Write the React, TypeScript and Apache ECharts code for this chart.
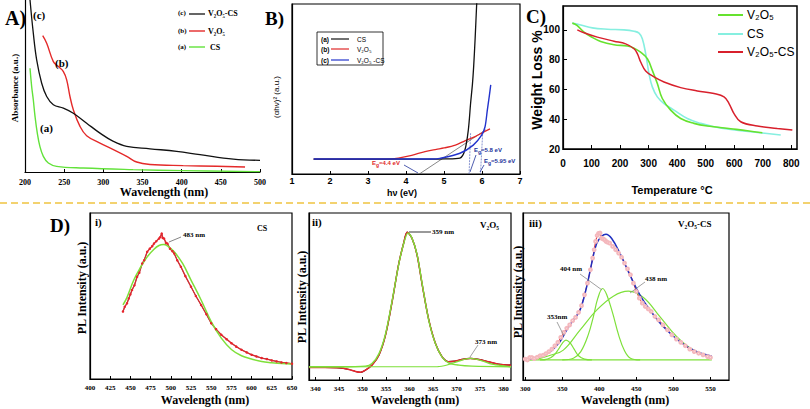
import { useEffect, useRef } from 'react';
import * as echarts from 'echarts';

// ---------- Panel A: UV-vis absorbance ----------
const A_CS = [[206.4,60.3],[208.5,49.7],[210.6,42],[212.8,32.3],[215.7,22.6],[219,14.9],[223.4,9.1],[229.8,5.2],[240.4,3.3],[274.5,2.3],[338,1.4],[402,0.8],[500,0.2]];
const A_V2O5 = [[222.6,79.3],[227.7,74.9],[236.2,64.2],[242.6,61.3],[249,58.4],[253.2,53.6],[257.4,43.9],[261.7,36.2],[270.2,26.5],[278.7,21.1],[295.7,16.8],[312.8,13],[329.8,9.1],[342.6,5.8],[359.6,4.4],[402,3.7],[444.7,3.3],[480.9,2.9]];
const A_V2O5CS = [[205.6,106],[206.4,100],[210.6,80.7],[214.9,65.2],[221.3,51.6],[227.7,43.9],[236.2,39.1],[249,37.1],[261.7,34.2],[278.7,28.4],[295.7,22.6],[312.8,17.8],[329.8,14.9],[359.6,13.5],[393.6,12],[423.4,10.1],[466,7.5],[500,6.8]];

// ---------- Panel B: Tauc plot ----------
const B_CS = [[1.57,8.8],[3,8.8],[4.5,8.8],[5.03,8.9],[5.42,9.4],[5.55,14.1],[5.64,25.9],[5.7,41.6],[5.75,53.3],[5.78,63],[5.82,80],[5.86,100],[5.87,104]];
const B_V2O5 = [[1.57,8.8],[3.5,8.8],[3.8,9.4],[4.15,11],[4.5,13.2],[4.8,14.5],[5.0,15.3],[5.3,17],[5.55,19.5],[5.82,22],[6.03,24.5],[6.21,26.5]];
const B_V2O5CS = [[1.57,8.8],[4.68,8.8],[4.89,9.2],[5.42,12.2],[5.77,17],[5.99,22.9],[6.08,27.8],[6.14,37.6],[6.19,45.5],[6.23,52.4]];
const B_TANGENT = [[4.35,0],[6.1,26]];
const B_EG1 = [[5.7,24],[5.66,0]];
const B_EG2 = [[6.02,25],[5.96,0]];

// ---------- Panel C: TGA ----------
const C_V2O5 = [[32.7,104.5],[50,102.9],[73.6,98.4],[97,95.5],[132,92.2],[178.7,90],[225.5,89.1],[248.8,87.7],[272,85],[295.6,80.6],[313,72.8],[330.6,63.9],[348,53.9],[377.3,46.1],[412.4,40.5],[459,37.2],[505.8,35.4],[587.6,33.6],[646,32.3],[698.6,30.9]];
const C_CS = [[32.7,104.5],[62,103.3],[102.8,101.3],[155.4,100.4],[213.8,100],[248.8,99.1],[266.4,97.8],[278,94],[289.7,84],[301.4,70.6],[313,61.7],[330.6,55],[354,50.5],[389,46.1],[435.7,40.5],[482.5,37.2],[529.2,34.9],[587.6,33.1],[681,31.1],[763,29.4]];
const C_V2O5CS = [[50.2,100],[73.6,98],[120.3,95.1],[178.7,92.4],[219.6,90.6],[248.8,87.3],[260.5,84],[272.2,78.4],[289.7,72.4],[319,68.4],[354,65],[412.4,61.2],[470.8,59],[529.2,57.2],[564.3,55],[581.8,50.5],[599.3,43.8],[622.7,38.3],[681,35.4],[751,33.8],[803.7,32.7]];
const C_XTICKS = [0,100,200,300,400,500,600,700,800];
const C_YTICKS = [20,40,60,80,100];

// ---------- Panel D-i: PL of CS ----------
const D1_DATA = [[440.8,40.6],[443,43.5],[445.8,45.6],[448,48.5],[450,51],[452,53.6],[455,56.5],[458.3,61.6],[461,64],[464.6,69.6],[467,71.5],[470.8,76.6],[474,78.5],[477,80],[479.2,81.6],[482,83],[485.4,84.6],[487,85.5],[488.75,87.6],[490,85],[491.7,84.6],[494,82],[495.8,81.6],[499,78.5],[502,77],[504.2,75.6],[508,71.5],[512.5,67.6],[518,62],[525,55.6],[531,50],[537.5,44.6],[544,39],[550,33.6],[556,30],[562.5,26.6],[569,24],[575,21.6],[581,19.5],[587.5,17.6],[594,16],[600,14.6],[606,13.6],[612.5,12.6],[619,12],[625,11.2],[631,10.6],[637,10],[643,9.6],[650,9.2]];
const D1_FIT = [[440.8,44.6],[445.8,49.2],[454.2,59.6],[462.5,67.2],[470.8,73.6],[479.2,78.2],[485.4,80.4],[490.8,81],[495.8,80.2],[504.2,76.6],[514.6,69.6],[525,59.6],[537.5,47.6],[550,34.6],[562.5,24.6],[575,17.8],[587.5,14],[600,12],[612.5,10.5],[625,9.8],[637.5,9.3],[650,9.1]];

// ---------- Panel D-ii: PL of V2O5 ----------
const D2_DATA = [[338.6,7.5],[342,7.5],[345,7.3],[347.1,6.3],[348.5,5.1],[349.6,4.6],[350.6,5.9],[352,8.9],[353.5,15],[354.9,27],[356.3,47],[357.7,69.5],[358.8,82.5],[359.5,88.5],[360.5,85],[361.6,75],[362.7,57],[364.1,36],[365.5,22],[366.9,14],[368.3,11],[369.7,11.3],[371.2,12.3],[372.9,12.9],[374.7,12.3],[376.8,10.9],[378.9,9.5],[381.6,8.9]];
const D2_FIT1 = [[338.6,7.9],[345,7.9],[350.6,8.3],[352,9.9],[353.5,15.8],[354.9,27.7],[356.3,47.5],[357.7,69.3],[358.8,82.2],[359.7,88.1],[360.5,85.1],[361.6,75.2],[362.7,57.4],[364.1,35.6],[365.5,21.8],[366.9,13.9],[368.3,10.3],[370.5,8.9],[373.3,8.3],[381.6,7.9]];
const D2_FIT2 = [[338.6,7.9],[366,8],[368,9],[370.5,11.3],[372.9,12.9],[375.4,11.5],[377.5,9.5],[380.4,8.3],[381.6,7.9]];
const D2_TICKS = [340,345,350,355,360,365,370,375,380];

// ---------- Panel D-iii: PL of V2O5-CS ----------
const D3_DATA = [[300,12.5],[303,12],[306,13.5],[309,13.5],[312,12.8],[316,13.6],[320,14.5],[324,14.8],[328,15.8],[332,17],[336,18.5],[340,20.5],[344,22.6],[348,25.5],[352,28.5],[356,31],[360,33],[364,35.5],[368,37.5],[372,40.5],[376,44.5],[380,51],[384,58],[388,66],[391,73],[393,78],[395,83],[397,86.5],[399,87.8],[401,88],[403,85],[405,84.5],[407,84],[409,83],[411,82.5],[414,82],[418,80],[422,78],[426,76],[430,73.5],[434,70],[438,66.5],[442,63],[446,58],[450,53],[454,49],[458,46],[462,44],[466,42.5],[470,41],[475,38],[480,36],[486,33],[492,30],[498,27],[504,24.5],[510,22.5],[516,20.5],[522,18.5],[528,17],[534,16],[540,15],[546,14],[550,13.5]];
const D3_FIT = [[300,12.6],[306.3,12.5],[319.8,13.9],[333.3,16.9],[346.8,22.9],[355.9,29.9],[364.9,35.9],[373.9,41.8],[382.9,55.8],[389.6,69.7],[396.4,81.7],[403.2,86.1],[409,87.3],[416.7,84.7],[428,75.7],[441.4,62.7],[454.9,50.8],[468.5,41.8],[486.5,31.9],[509,22.9],[531.5,16.9],[551.8,14.3]];
const D3_P353 = [[320,12],[330,12.5],[338,14.5],[345,18.5],[350,22],[355,23.9],[360,22.5],[366,18.5],[372,14.5],[380,12.5],[390,12]];
const D3_P404 = [[350,12],[365,13],[375,17],[385,27],[392,38],[398,49],[404.5,54.8],[410,51],[418,40],[426,27],[434,17.5],[442,13],[455,12]];
const D3_P438 = [[305,12],[320,13],[335,15],[351.4,17.9],[373.9,29.9],[396.4,41.8],[418.9,50.2],[439.2,53.2],[459.5,49.4],[482,37.8],[504.5,25.9],[527,17.9],[551.8,13.9]];
const D3_BASE = [[300,12],[551.8,12]];
const D3_TICKS = [300,350,400,450,500,550];

const SERIF = 'Liberation Serif';
const SANS = 'Liberation Sans';

function txt(x: number, y: number, text: string, size: number, opts: any = {}) {
  return {
    type: 'text', x, y, rotation: opts.rotation || 0, z: 100,
    style: {
      text, fontSize: size, fontFamily: opts.family || SERIF,
      fontWeight: opts.weight || 'bold', fill: opts.color || '#000',
      align: opts.align || 'left', verticalAlign: 'middle', rich: opts.rich,
    },
  };
}
function seg(x1: number, y1: number, x2: number, y2: number, color: string, w = 1, dash?: number[]) {
  return { type: 'line', z: 100, shape: { x1, y1, x2, y2 }, style: { stroke: color, lineWidth: w, lineDash: dash } };
}

export default function App() {
  const ref = useRef<HTMLDivElement>(null);
  useEffect(() => {
    document.body.style.margin = '0';
    const chart = echarts.init(ref.current!, null, { renderer: 'svg' });
    const black = '#000';
    const axLine = { show: true, lineStyle: { color: black, width: 1.2 } };
    const noSplit = { show: false };
    const lab = (family: string, size: number, margin: number, extra: any = {}) => ({
      fontFamily: family, fontWeight: 'bold', fontSize: size, color: black, margin, ...extra,
    });
    const tick = (extra: any = {}) => ({ show: true, inside: true, length: 3, lineStyle: { color: black }, ...extra });
    const grids = [
      { left: 25, top: 0, width: 235, height: 172 },
      { left: 292, top: 4, width: 228, height: 170, show: true, borderColor: black, borderWidth: 1.2, backgroundColor: 'transparent' },
      { left: 563, top: 6, width: 234, height: 143, show: true, borderColor: black, borderWidth: 1.5, backgroundColor: 'transparent' },
      { left: 90, top: 213, width: 202, height: 166, show: true, borderColor: black, borderWidth: 1.2, backgroundColor: 'transparent' },
      { left: 309, top: 213, width: 202, height: 167, show: true, borderColor: black, borderWidth: 1.2, backgroundColor: 'transparent' },
      { left: 523, top: 213, width: 206, height: 167, show: true, borderColor: black, borderWidth: 1.2, backgroundColor: 'transparent' },
    ];
    const xAxis = [
      { gridIndex: 0, type: 'value', min: 200, max: 500, interval: 50, axisLine: axLine, axisTick: tick(), splitLine: noSplit, axisLabel: lab(SERIF, 8, 6) },
      { gridIndex: 1, type: 'value', min: 1, max: 7, interval: 1, axisLine: axLine, axisTick: tick(), splitLine: noSplit, axisLabel: lab(SANS, 9, 2) },
      { gridIndex: 2, type: 'value', min: 0, max: 820, axisLine: axLine, axisTick: tick({ customValues: C_XTICKS, length: 4 }), splitLine: noSplit, axisLabel: lab(SANS, 10, 9, { customValues: C_XTICKS }) },
      { gridIndex: 3, type: 'value', min: 400, max: 650, interval: 25, axisLine: axLine, axisTick: tick(), splitLine: noSplit, axisLabel: lab(SERIF, 7, 5, { interval: 0 }) },
      { gridIndex: 4, type: 'value', min: 338.6, max: 381.6, axisLine: axLine, axisTick: tick({ customValues: D2_TICKS }), splitLine: noSplit, axisLabel: lab(SERIF, 7, 5, { customValues: D2_TICKS }) },
      { gridIndex: 5, type: 'value', min: 297, max: 575, axisLine: axLine, axisTick: tick({ customValues: D3_TICKS }), splitLine: noSplit, axisLabel: lab(SERIF, 7, 5, { customValues: D3_TICKS }) },
    ];
    const yHidden = (g: number, min: number, max: number) => ({
      gridIndex: g, type: 'value', min, max, axisLine: axLine, axisTick: { show: false }, splitLine: noSplit, axisLabel: { show: false },
    });
    const yAxis = [
      yHidden(0, 0, 100),
      yHidden(1, 0, 100),
      { gridIndex: 2, type: 'value', min: 20, max: 116, axisLine: axLine, axisTick: tick({ customValues: C_YTICKS, length: 4 }), splitLine: noSplit, axisLabel: lab(SANS, 10, 3, { customValues: C_YTICKS }) },
      yHidden(3, 0, 100),
      yHidden(4, 0, 100),
      yHidden(5, 0, 100),
    ];
    const ln = (i: number, data: number[][], color: string, width = 1.3, extra: any = {}) => ({
      type: 'line', xAxisIndex: i, yAxisIndex: i, data, showSymbol: false, symbol: 'none', smooth: 0.4,
      lineStyle: { color, width }, itemStyle: { color }, silent: true, ...extra,
    });
    const RED = '#e8242c', GREEN = '#7ee03a', BLUE = '#1f2fc0';
    const series = [
      ln(0, A_CS, '#62e23a', 1.4),
      ln(0, A_V2O5, '#e42a2a', 1.4),
      ln(0, A_V2O5CS, '#111', 1.3),
      ln(1, B_TANGENT, '#555', 0.7, { smooth: false }),
      ln(1, B_EG1, '#5566bb', 0.7, { smooth: false, lineStyle: { color: '#5566bb', width: 0.7, type: [2, 1] } }),
      ln(1, B_EG2, '#5566bb', 0.7, { smooth: false, lineStyle: { color: '#5566bb', width: 0.7, type: [2, 1] } }),
      ln(1, B_V2O5, '#e02828', 1.3, { smooth: 0.3 }),
      ln(1, B_CS, '#111', 1.3, { smooth: 0.3 }),
      ln(1, B_V2O5CS, '#2233cc', 1.4, { smooth: 0.3 }),
      ln(2, C_CS, '#86efe0', 1.6),
      ln(2, C_V2O5, '#66e22e', 1.6),
      ln(2, C_V2O5CS, '#d8202c', 1.5),
      ln(3, D1_DATA, '#111', 0.8, { smooth: false }),
      ln(3, D1_DATA, RED, 1.6, { smooth: false, symbol: 'circle', showSymbol: true, symbolSize: 2.5, lineStyle: { color: RED, width: 1.4, opacity: 0.85 } }),
      ln(3, D1_FIT, GREEN, 1.5),
      ln(4, D2_DATA, '#111', 1.2, { smooth: 0.3 }),
      ln(4, D2_DATA, RED, 1.5, { smooth: 0.3 }),
      ln(4, D2_FIT1, GREEN, 1.4, { smooth: 0.3 }),
      ln(4, D2_FIT2, GREEN, 1.2, { smooth: 0.3 }),
      ln(5, D3_DATA, RED, 1, { smooth: false, symbol: 'emptyCircle', showSymbol: true, symbolSize: 2.8, itemStyle: { color: '#f4b8bd', borderColor: '#e03848', borderWidth: 0.8 } }),
      ln(5, D3_BASE, GREEN, 1.2, { smooth: false }),
      ln(5, D3_P353, GREEN, 1.2),
      ln(5, D3_P404, GREEN, 1.2),
      ln(5, D3_P438, GREEN, 1.2),
      ln(5, D3_FIT, BLUE, 1.5),
    ];
    const sub = { s: { fontSize: 5, fontFamily: SANS, fontWeight: 'bold', padding: [4, 0, 0, 0] } };
    const graphic: any[] = [
      seg(0, 203, 810, 203, '#f0c440', 1.5, [7, 4]),
      // Panel A
      txt(5, 18, 'A)', 20),
      txt(33, 15, '(c)', 11),
      txt(55, 63, '(b)', 11),
      txt(40, 128, '(a)', 11),
      txt(178, 13, '(c)', 7), seg(189, 14, 205, 14, '#111', 1.3), txt(208, 13, 'V₂O₅-CS', 8),
      txt(178, 31, '(b)', 7), seg(189, 31, 205, 31, '#e42a2a', 1.4), txt(208, 31, 'V₂O₅', 8),
      txt(178, 47, '(a)', 7), seg(189, 47, 205, 47, '#62e23a', 1.4), txt(210, 47, 'CS', 8),
      txt(15, 88, 'Absorbance (a.u.)', 9, { rotation: Math.PI / 2, align: 'center' }),
      txt(164, 192, 'Wavelength (nm)', 12, { align: 'center' }),
      // Panel B
      txt(265, 18, 'B)', 19),
      { type: 'rect', z: 99, shape: { x: 317, y: 32, width: 66, height: 33 }, style: { fill: '#fff', stroke: '#000', lineWidth: 0.8 } },
      txt(321, 39, '(a)', 6.5, { family: SANS }), seg(331, 39, 349, 39, '#111', 1.2), txt(357, 39, 'CS', 6.5, { family: SANS, weight: 'normal' }),
      txt(321, 49, '(b)', 6.5, { family: SANS }), seg(331, 49, 349, 49, '#e02828', 1.2), txt(357, 49, 'V₂O₅', 6.5, { family: SANS, weight: 'normal' }),
      txt(321, 60, '(c)', 6.5, { family: SANS }), seg(331, 60, 349, 60, '#2233cc', 1.2), txt(357, 60, 'V₂O₅ -CS', 6.5, { family: SANS, weight: 'normal' }),
      txt(276, 97, '(αhν)² (a.u.)', 8, { rotation: Math.PI / 2, align: 'center', family: SANS, weight: 'normal' }),
      txt(402, 193, 'hν (eV)', 9, { align: 'center', family: SANS }),
      txt(372, 163, 'E{s|g}=4.4 eV', 6, { family: SANS, color: '#e02828', rich: { s: { ...sub.s, fill: '#e02828' } } }),
      seg(404, 165, 418, 173, '#22339a', 0.8),
      txt(474, 150, 'E{s|g}=5.8 eV', 6, { family: SANS, color: '#22339a', rich: { s: { ...sub.s, fill: '#22339a' } } }),
      seg(476, 155, 470, 172, '#22339a', 0.8),
      txt(484, 161, 'E{s|g}=5.95 eV', 6, { family: SANS, color: '#22339a', rich: { s: { ...sub.s, fill: '#22339a' } } }),
      seg(484, 165, 480, 172, '#22339a', 0.8),
      // Panel C
      txt(526, 16, 'C)', 19),
      seg(718, 15, 743, 15, '#66e22e', 2), txt(747, 15, 'V₂O₅', 12, { family: SANS, weight: 'normal' }),
      seg(718, 34, 743, 34, '#86efe0', 2), txt(747, 34, 'CS', 12, { family: SANS, weight: 'normal' }),
      seg(718, 52, 743, 52, '#d8202c', 2), txt(747, 52, 'V₂O₅-CS', 12, { family: SANS, weight: 'normal' }),
      txt(537, 80, 'Weight Loss %', 14, { rotation: Math.PI / 2, align: 'center', family: SANS }),
      txt(672, 190, 'Temperature °C', 11, { align: 'center', family: SANS }),
      // Panel D
      txt(50, 225, 'D)', 19),
      txt(95, 222, 'i)', 11),
      txt(312, 222, 'ii)', 11),
      txt(529, 223, 'iii)', 11),
      txt(82, 288, 'PL Intensity (a.u.)', 12, { rotation: Math.PI / 2, align: 'center' }),
      txt(302, 297, 'PL Intensity (a.u.)', 12, { rotation: Math.PI / 2, align: 'center' }),
      txt(518, 292, 'PL Intensity (a.u.)', 12, { rotation: Math.PI / 2, align: 'center' }),
      txt(205, 400, 'Wavelength (nm)', 12, { align: 'center' }),
      txt(415, 400, 'Wavelength (nm)', 12, { align: 'center' }),
      txt(625, 400, 'Wavelength (nm)', 12, { align: 'center' }),
      txt(183, 235, '483 nm', 7), seg(181, 237, 169, 242, '#666', 0.8),
      txt(257, 228, 'CS', 8),
      txt(432, 232, '359 nm', 7), seg(409, 232, 431, 232, '#777', 1.5),
      txt(475, 342, '373 nm', 7), seg(478, 345, 470, 357, '#888', 0.8),
      txt(480, 225, 'V₂O₅', 9),
      txt(678, 224, 'V₂O₅-CS', 9),
      txt(547, 317, '353nm', 7), seg(557, 322, 564, 336, '#888', 0.8),
      txt(560, 269, '404 nm', 7), seg(580, 274, 602, 290, '#888', 0.8),
      txt(645, 279, '438 nm', 7), seg(645, 282, 630, 293, '#888', 0.8),
    ];
    chart.setOption({
      animation: false,
      backgroundColor: '#fff',
      grid: grids, xAxis, yAxis, series, graphic,
    });
    return () => chart.dispose();
  }, []);
  return <div ref={ref} style={{ position: 'absolute', left: 0, top: 0, width: 810, height: 409 }} />;
}
